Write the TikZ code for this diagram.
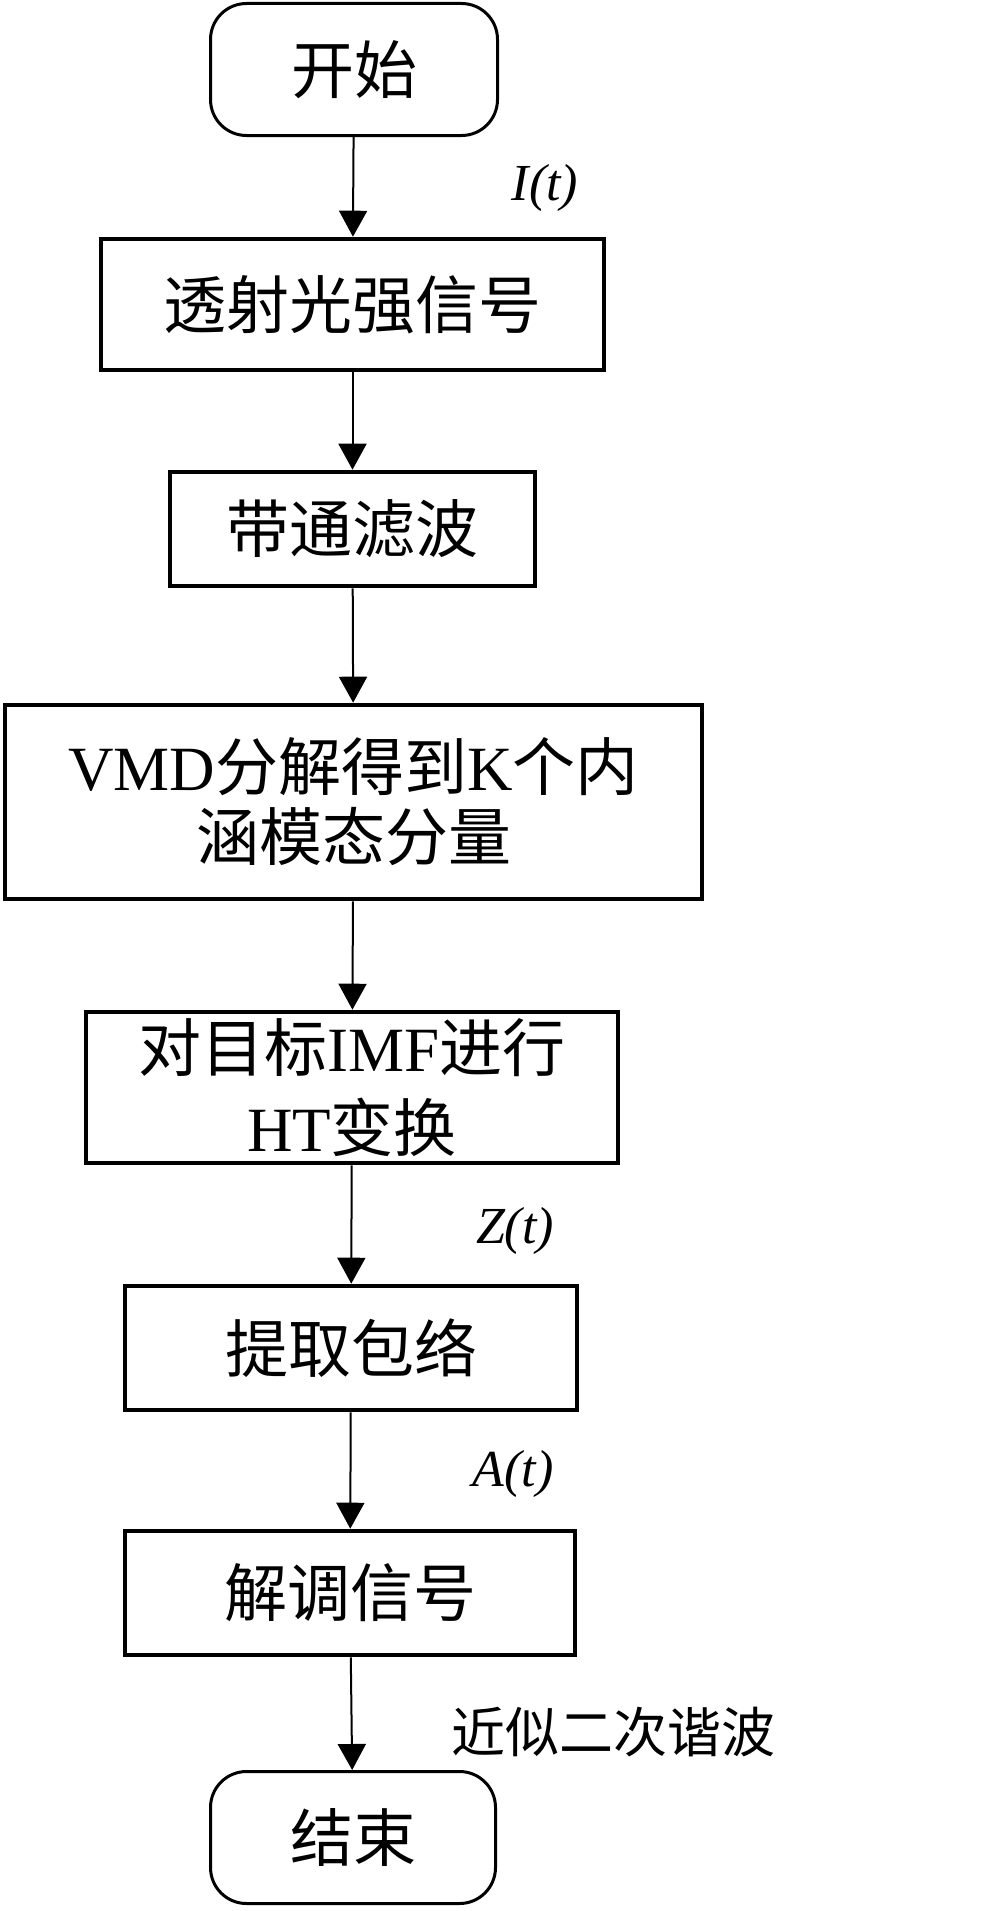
\documentclass[tikz,border=0pt]{standalone}
\usepackage{fontspec}
\setmainfont{Liberation Serif}
\newfontfamily\cjk{Noto Sans CJK SC}
\usetikzlibrary{arrows.meta}
\newcommand\latn[1]{{\rmfamily #1}}
\begin{document}
\begin{tikzpicture}[x=1pt,y=-1pt,
  box/.style={draw, line width=4.6pt, inner sep=0pt, align=center, font=\fontsize{63}{72}\selectfont\cjk},
  term/.style={box, line width=3pt, rounded corners=36pt},
  lbl/.style={inner sep=0pt, font=\fontsize{52}{60}\selectfont\itshape},
  cjklbl/.style={inner sep=0pt, font=\fontsize{54}{60}\selectfont\cjk},
  arr/.style={line width=2pt, -{Triangle[length=26pt,width=28pt]}}]
\useasboundingbox[fill=white] (0,0) rectangle (988,1911);
\node[term, minimum width=287pt, minimum height=132pt] (start) at (354,69.5) {开始};
\node[box, minimum width=503pt, minimum height=131pt] (n1) at (352.5,304.5) {透射光强信号};
\node[box, minimum width=365pt, minimum height=114pt] (n2) at (352.5,529) {带通滤波};
\node[box, minimum width=697pt, minimum height=194pt, font=\fontsize{63}{70}\selectfont\cjk] (n3) at (353.5,802) {\latn{VMD}分解得到\latn{K}个内\\涵模态分量};
\node[box, minimum width=532pt, minimum height=151pt, font=\fontsize{63}{80}\selectfont\cjk] (n4) at (352,1087.5) {对目标\latn{IMF}进行\\\latn{HT}变换};
\node[box, minimum width=452pt, minimum height=124pt] (n5) at (351,1348) {提取包络};
\node[box, minimum width=450pt, minimum height=124pt] (n6) at (350,1593) {解调信号};
\node[term, minimum width=285pt, minimum height=132pt] (end) at (353,1837.5) {结束};
\draw[arr] (start) -- (n1);
\draw[arr] (n1) -- (n2);
\draw[arr] (n2) -- (n3);
\draw[arr] (n3) -- (n4);
\draw[arr] (n4) -- (n5);
\draw[arr] (n5) -- (n6);
\draw[arr] (n6) -- (end);
\node[lbl] (lI) at (545,188) {I(t)};
\node[lbl] (lZ) at (515,1231) {Z(t)};
\node[lbl] (lA) at (513,1474) {A(t)};
\node[cjklbl] (lH) at (613,1732) {近似二次谐波};
\end{tikzpicture}
\end{document}
